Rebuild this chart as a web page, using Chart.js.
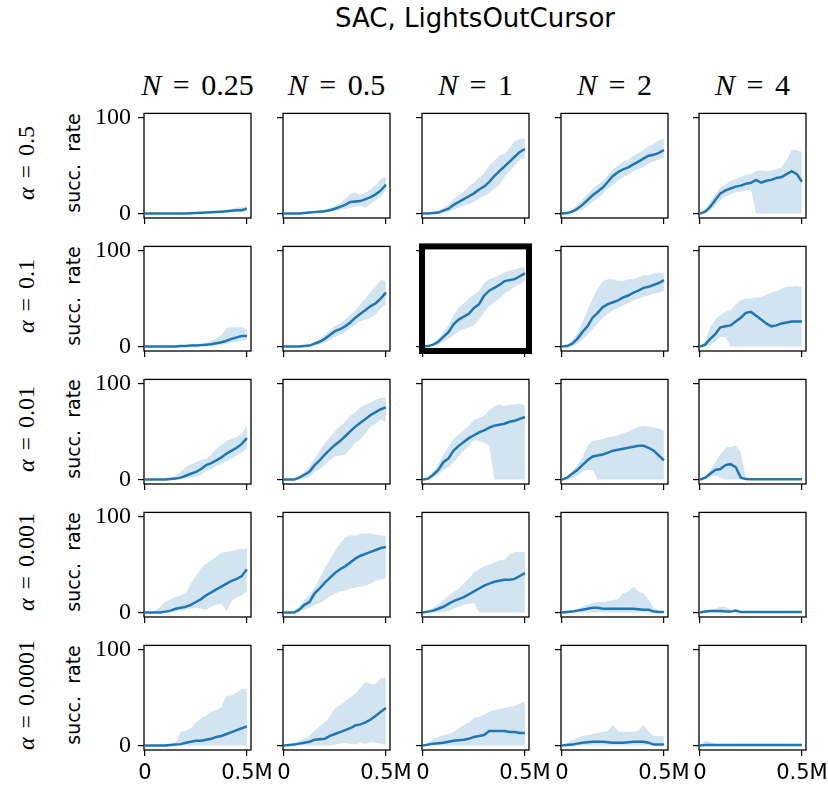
<!DOCTYPE html>
<html>
<head>
<meta charset="utf-8">
<script src="https://cdn.jsdelivr.net/npm/chart.js@4.4.0/dist/chart.umd.min.js"></script>
<style>
  body { margin: 0; background: #fff; }
  #fig { position: relative; width: 828px; height: 791px; overflow: hidden; background: #fff; }
  canvas { position: absolute; }
  .txt { position: absolute; white-space: nowrap; color: #000; transform: translate(-50%, -50%); }
  .title { font-family: 'DejaVu Sans', sans-serif; font-size: 26px; }
  .colhead { font-family: 'Liberation Serif', serif; font-size: 30px; word-spacing: 4px; }
  .rowhead { font-family: 'Liberation Serif', serif; font-size: 24px; word-spacing: 3px; transform: translate(-50%, -50%) rotate(-90deg); }
  .ylab { font-family: 'DejaVu Sans', sans-serif; font-size: 19px; transform: translate(-50%, -50%) rotate(-90deg); }
</style>
</head>
<body>
<div id="fig"></div>
<script>
// training steps (millions)
const steps = [0, 0.025, 0.05, 0.075, 0.1, 0.125, 0.15, 0.175, 0.2, 0.225, 0.25,
               0.275, 0.3, 0.325, 0.35, 0.375, 0.4, 0.425, 0.45, 0.475, 0.5];
const colLabels = ['0.25', '0.5', '1', '2', '4'];
const rowLabels = ['0.5', '0.1', '0.01', '0.001', '0.0001'];
const xTicks = [0, 0.5];
const yTicks = [0, 100];
const zeros = [0,0,0,0,0,0,0,0,0,0,0,0,0,0,0,0,0,0,0,0,0];

// alpha = 0.5  (one list per N)
const mean_a05 = [
  [0,0,0,0,0,0,0,0,0,0.3,0.5,0.8,1,1.3,1.6,2,2.5,3,3.5,3.5,5],
  [0,0,0,0,0.5,1,1.5,2,2.5,3.5,5,7,9,12,12.5,13,15,17,20,24,30],
  [0,0,0.5,1,3,5,9,12,15,18,21,25,28,33,39,44,49,54,59,64,67],
  [0,0.5,2,5,9,14,19,23,27,33,39,43,46,48,51,54,57,60,61,63,66],
  [0,2,7,14,21,24,26,28,29,31,32,35,32,34,35,37,38,41,44,41,33]
];
const hi_a05 = [
  [0,0,0,0,0,0,0,0,0.3,0.6,1,1.5,2,2.5,3,3.5,4,5,6,6.5,7.5],
  [0,0,0,0.5,1,2,3,4,4.5,6,8,11,15,20,22,19,22,25,30,36,38],
  [0,0.5,1,3,6,10,15,19,23,28,32,37,42,50,55,60,62,68,75,78,78],
  [0,1,4,9,15,20,26,30,34,40,46,50,54,56,60,63,66,70,72,76,78],
  [0,4,12,20,27,30,34,36,38,40,41,44,45,44,45,46,48,55,66,66,64]
];
const lo_a05 = [
  [0,0,0,0,0,0,0,0,0,0,0,0,0.3,0.5,0.8,1,1.3,1.5,2,2,3],
  [0,0,0,0,0,0,0.5,1,1.5,2,3,4,5,6,7,8,6,10,14,18,24],
  [0,0,0,0,1,2,4,6,8,10,12,16,18,22,26,30,38,44,50,56,58],
  [0,0,0.5,2,4,8,12,16,20,26,30,34,38,40,44,46,48,52,54,56,58],
  [0,0,3,8,14,18,20,22,23,24,25,0,0,0,0,0,0,0,0,0,0]
];

// alpha = 0.1
const mean_a01 = [
  [0,0,0,0,0,0,0,0.5,0.5,1,1,1.5,2,2.5,3.5,4.5,6,8,9.5,11,11],
  [0,0,0,0,0.5,1,3,5,8,12,16,18,21,25,30,34,38,42,45,50,56],
  [0,0.5,2,5,10,15,23,28,31,34,40,44,53,58,61,64,68,69,70,73,76],
  [0,0.5,3,8,15,21,30,35,41,44,46,48,51,53,56,58,61,62,64,66,69],
  [0,2,8,13,20,21,22,26,30,35,36,32,28,24,21,22,24,25,26,26,26]
];
const hi_a01 = [
  [0,0,0,0,0,0.5,0.5,1,1.5,2,2.5,3.5,4,6,9,12,19,20,20,20,18],
  [0,0,0,0.5,1,2,5,8,12,17,22,24,28,33,38,44,50,57,62,69,68],
  [0,1,4,8,15,22,33,40,45,50,54,58,66,70,72,74,77,79,80,82,82],
  [0,2,6,14,25,38,50,60,68,70,70,68,68,70,70,72,74,74,76,77,76],
  [0,5,20,28,33,36,38,44,48,50,50,51,51,54,56,58,60,62,62,63,62]
];
const lo_a01 = [
  [0,0,0,0,0,0,0,0,0,0,0,0,0.5,1,1.5,2,3,4,5,6,7],
  [0,0,0,0,0,0,1,2,4,7,10,12,15,19,23,26,28,30,33,40,44],
  [0,0,0.5,2,5,8,12,16,18,20,22,28,36,42,46,50,55,58,62,65,68],
  [0,0,0.5,3,7,12,18,24,30,34,38,40,43,45,48,50,52,53,55,56,58],
  [0,0,2,5,10,10,0,0,0,0,0,0,0,0,0,0,0,0,0,0,0]
];

// alpha = 0.01
const mean_a001 = [
  [0,0,0,0,0,0.5,1,2,4,6,8,11,15,17,20,23,27,30,33,37,43],
  [0,0,0,2,5,8,15,20,26,31,36,40,45,50,55,59,63,67,70,73,75],
  [0,1,5,10,18,22,30,35,39,43,46,49,51,54,56,57,58,60,61,63,65],
  [0,2,6,10,15,20,24,25,26,28,30,31,32,33,34,35,35,33,30,25,20],
  [0,2,6,10,11,15,16,13,2,0.5,0.3,0.3,0.3,0.3,0.3,0.3,0.3,0.3,0.3,0.3,0.3]
];
const hi_a001 = [
  [0,0,0.5,1,1.5,2,4,8,13,16,18,20,22,26,32,36,40,42,44,48,56],
  [0,0,1,4,8,14,22,30,38,44,50,55,60,66,70,75,78,80,83,85,85],
  [0,2,8,16,26,34,42,47,51,56,62,64,66,72,76,78,76,78,78,79,77],
  [0,3,9,15,23,35,40,41,42,44,45,46,48,50,52,55,56,55,54,53,51],
  [0,3,9,18,26,33,34,35,28,2,1,1,1,1,1,1,1,1,1,1,1]
];
const lo_a001 = [
  [0,0,0,0,0,0,0,0.5,1,2,3,5,9,11,14,16,19,22,25,28,32],
  [0,0,0,0,1,3,8,11,15,20,24,25,26,32,38,42,48,55,58,62,60],
  [0,0,2,5,10,13,18,24,30,34,41,40,38,36,0,0,0,0,0,0,0],
  [0,0,1,4,8,10,10,0,0,0,0,0,0,0,0,0,0,0,0,0,0],
  [0,0.5,3,4,2,0,0,0,0,0,0,0,0,0,0,0,0,0,0,0,0]
];

// alpha = 0.001
const mean_a0001 = [
  [0,0,0,0,1,2,4,5,6,8,11,14,18,21,24,27,30,33,35,38,45],
  [0,0,0,3,8,11,20,25,31,36,41,45,48,52,56,59,61,63,65,67,68],
  [0,1,2,4,6,9,12,14,16,19,22,25,28,30,32,33,34,34,35,38,41],
  [0,0.5,1,2,3,4,5,5,4,4,4,4,4,4,4,3.5,3,3,1,0.5,0.5],
  [0,1,1.5,1.5,1.5,1,1,2,0.5,0.5,0.5,0.5,0.5,0.5,0.5,0.5,0.5,0.5,0.5,0.5,0.5]
];
const hi_a0001 = [
  [0,0,2,6,11,14,16,18,20,30,38,46,51,54,58,62,63,64,65,66,66],
  [0,0,1,6,13,18,26,36,46,55,64,72,78,80,80,82,82,82,81,80,80],
  [0,2,5,9,13,17,21,25,30,36,41,45,48,50,52,54,55,60,63,63,63],
  [0,1,3,4,6,8,10,11,11,12,13,14,20,22,27,22,20,13,5,2,1.5],
  [0,2,3,4,6,6,3,3,2,1,1,1,1,1,1,1,1,1,1,1,1]
];
const lo_a0001 = [
  [0,0,0,0,0,0.5,1,2,3,4,5,4,3,6,8,10,1,12,16,18,22],
  [0,0,0,1,3,5,8,10,13,17,20,22,23,25,26,27,28,30,33,34,36],
  [0,0,0,0,0.5,2,4,6,8,9,10,0,0,0,0,0,0,0,0,0,0],
  zeros,
  zeros
];

// alpha = 0.0001
const mean_a00001 = [
  [0,0,0,0,0,0.5,1,1.5,3,4,5,5,6,7,9,10,12,14,16,18,20],
  [0,0.5,1,2,3,4,6,6.5,7,10,12,14,16,18,21,22,24,27,31,35,39],
  [0,1,2,2.5,3,4,5,5.5,6,7,9,10,11,15,15,15,15,14,14,13,13],
  [0,0.5,1,2,3,3.5,4,4,4,3.5,3,3,3,3.5,4,4,4,3,1,1,1],
  [0,0.5,0.5,0.5,0.5,0.5,0.5,0.5,0.5,0.5,0.5,0.5,0.5,0.5,0.5,0.5,0.5,0.5,0.5,0.5,0.5]
];
const hi_a00001 = [
  [0,0.5,1,1,1.5,2,3,14,16,18,24,28,31,35,37,40,52,52,55,59,59],
  [0,1,3,5,7,10,16,20,24,30,39,42,46,50,54,60,66,64,64,70,71],
  [0,3,7,9,11,12,14,18,21,24,29,30,32,35,37,38,39,40,41,44,46],
  [0,3,6,8,10,11,12,13,14,15,21,15,14,14,14,16,21,14,10,10,10],
  [0,5,4,1,1,1,1,1,1,1,1,1,1,1,1,1,1,1,1,1,1]
];
const lo_a00001 = [
  zeros,
  [0,0,0,0,0,0,0,0,0,0,1,2,3,2,1,3,2,4,3,2,0],
  zeros,
  zeros,
  zeros
];

const meanRows = [mean_a05, mean_a01, mean_a001, mean_a0001, mean_a00001];
const hiRows = [hi_a05, hi_a01, hi_a001, hi_a0001, hi_a00001];
const loRows = [lo_a05, lo_a01, lo_a001, lo_a0001, lo_a00001];

// layout of the grid (px)
const colLeft = [144, 283, 422, 561, 699];
const rowTop = [108, 241, 374, 507, 640];
const PLOT_W = 107, PLOT_H = 110;
const PAD_L = 70, PAD_T = 16, PAD_R = 32, PAD_B = 45;
const HIGHLIGHT = { row: 1, col: 2 };

const LINE = '#1f77b4';
const BAND = 'rgba(31, 119, 180, 0.2)';

const fig = document.getElementById('fig');

function addText(cls, html, x, y) {
  const d = document.createElement('div');
  d.className = 'txt ' + cls;
  d.innerHTML = html;
  d.style.left = x + 'px';
  d.style.top = y + 'px';
  fig.appendChild(d);
}

// draws the four spines around the plot area
const framePlugin = {
  id: 'frame',
  afterDraw(chart, args, opts) {
    const { ctx, chartArea: a } = chart;
    ctx.save();
    ctx.strokeStyle = '#000';
    ctx.lineWidth = opts.width || 1.3;
    ctx.strokeRect(a.left, a.top, a.right - a.left, a.bottom - a.top);
    ctx.restore();
  }
};

function toPoints(ys) {
  return steps.map((x, i) => ({ x: x, y: ys[i] }));
}

function makePanel(r, c) {
  const cv = document.createElement('canvas');
  const w = PAD_L + PLOT_W + PAD_R;
  const h = PAD_T + PLOT_H + PAD_B;
  cv.width = w; cv.height = h;
  cv.style.width = w + 'px';
  cv.style.height = h + 'px';
  cv.style.left = (colLeft[c] - PAD_L) + 'px';
  cv.style.top = (rowTop[r] - PAD_T) + 'px';
  fig.appendChild(cv);

  const isHi = r === HIGHLIGHT.row && c === HIGHLIGHT.col;
  const tickGrid = {
    display: true, drawOnChartArea: false, drawTicks: true,
    tickLength: 6, color: '#000', lineWidth: 1.2
  };

  new Chart(cv.getContext('2d'), {
    type: 'line',
    data: {
      datasets: [
        {
          data: toPoints(hiRows[r][c]), borderWidth: 0, pointRadius: 0,
          backgroundColor: BAND, fill: '+1'
        },
        {
          data: toPoints(loRows[r][c]), borderWidth: 0, pointRadius: 0, fill: false
        },
        {
          data: toPoints(meanRows[r][c]), borderColor: LINE, borderWidth: 2.5,
          pointRadius: 0, fill: false, tension: 0
        }
      ]
    },
    options: {
      responsive: false,
      animation: false,
      devicePixelRatio: 1,
      layout: { padding: { top: PAD_T, right: PAD_R, left: 0, bottom: 0 } },
      plugins: {
        legend: { display: false },
        tooltip: { enabled: false },
        frame: { width: isHi ? 6 : 1.3 }
      },
      scales: {
        x: {
          type: 'linear', min: -0.005, max: 0.52,
          afterBuildTicks: s => { s.ticks = xTicks.map(v => ({ value: v })); },
          afterFit: s => { s.height = PAD_B; },
          grid: tickGrid,
          border: { display: false },
          ticks: {
            autoSkip: false, maxRotation: 0, padding: 5, color: '#000',
            font: { family: 'DejaVu Sans', size: 21 },
            callback: v => (r === 4 ? (v === 0 ? '0' : '0.5M') : '')
          }
        },
        y: {
          min: -4.6, max: 104,
          afterBuildTicks: s => { s.ticks = yTicks.map(v => ({ value: v })); },
          afterFit: s => { s.width = PAD_L; },
          grid: tickGrid,
          border: { display: false },
          ticks: {
            padding: 7, color: '#000',
            font: { family: 'Liberation Serif', size: 24 },
            callback: v => (c === 0 ? String(v) : '')
          }
        }
      }
    },
    plugins: [framePlugin]
  });
}

// titles and labels
addText('title', 'SAC, LightsOutCursor', 475, 18);
colLabels.forEach((n, c) => {
  addText('colhead', '<i>N</i> = ' + n, colLeft[c] + PLOT_W / 2, 85);
});
rowLabels.forEach((a, r) => {
  const cy = rowTop[r] + PLOT_H / 2;
  addText('rowhead', '<i>α</i> = ' + a, 26, cy);
  addText('ylab', 'succ.&nbsp; rate', 73, cy);
});

for (let r = 0; r < 5; r++) {
  for (let c = 0; c < 5; c++) {
    makePanel(r, c);
  }
}
</script>
</body>
</html>
